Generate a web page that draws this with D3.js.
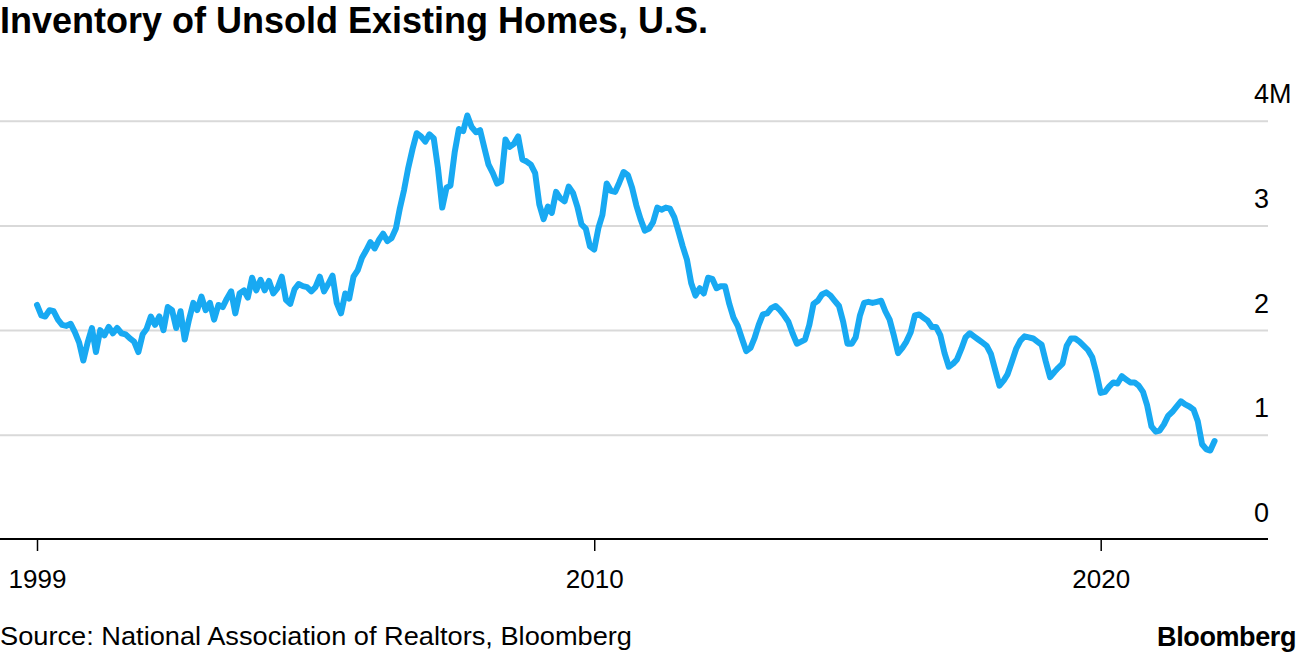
<!DOCTYPE html>
<html>
<head>
<meta charset="utf-8">
<script src="https://cdn.jsdelivr.net/npm/d3@7"></script>
<style>
  html, body { margin: 0; padding: 0; background: #fff; }
  svg { display: block; font-family: "Liberation Sans", Arial, Helvetica, sans-serif; }
</style>
</head>
<body>
<script>
// monthly inventory of unsold existing homes, millions, Jan 1999 onward
const startMonth = new Date(1999, 0, 1);
const inventory = [
  2.24, 2.14, 2.13, 2.19, 2.18, 2.10, 2.05, 2.04, 2.06, 1.98, 1.88, 1.71,
  1.88, 2.02, 1.79, 2.00, 1.95, 2.03, 1.97, 2.02, 1.97, 1.96, 1.92, 1.89,
  1.79, 1.96, 2.01, 2.13, 2.05, 2.13, 2.00, 2.22, 2.19, 2.02, 2.18, 1.91,
  2.10, 2.26, 2.19, 2.32, 2.19, 2.26, 2.10, 2.24, 2.22, 2.30, 2.37, 2.16,
  2.35, 2.38, 2.31, 2.50, 2.38, 2.48, 2.38, 2.47, 2.35, 2.40, 2.51, 2.29,
  2.25, 2.39, 2.44, 2.42, 2.41, 2.37, 2.41, 2.51, 2.37, 2.44, 2.52, 2.26,
  2.16, 2.35, 2.30, 2.51, 2.57, 2.69, 2.76, 2.84, 2.78, 2.86, 2.92, 2.85,
  2.88, 2.97, 3.16, 3.34, 3.55, 3.73, 3.88, 3.85, 3.80, 3.87, 3.83, 3.55,
  3.17, 3.36, 3.38, 3.70, 3.92, 3.90, 4.05, 3.94, 3.89, 3.91, 3.74, 3.58,
  3.50, 3.40, 3.42, 3.82, 3.75, 3.78, 3.85, 3.63, 3.61, 3.58, 3.50, 3.20,
  3.06, 3.18, 3.12, 3.32, 3.26, 3.23, 3.37, 3.31, 3.18, 3.01, 2.97, 2.80,
  2.77, 2.98, 3.10, 3.40, 3.33, 3.32, 3.41, 3.51, 3.48, 3.36, 3.19, 3.06,
  2.95, 2.97, 3.03, 3.17, 3.15, 3.17, 3.16, 3.08, 2.94, 2.80, 2.67, 2.45,
  2.33, 2.40, 2.35, 2.50, 2.49, 2.40, 2.42, 2.42, 2.25, 2.12, 2.04, 1.92,
  1.80, 1.83, 1.92, 2.05, 2.15, 2.16, 2.21, 2.23, 2.19, 2.14, 2.08, 1.97,
  1.87, 1.89, 1.91, 2.05, 2.25, 2.28, 2.34, 2.36, 2.33, 2.28, 2.23, 2.08,
  1.87, 1.87, 1.93, 2.14, 2.26, 2.27, 2.26, 2.27, 2.28, 2.18, 2.10, 1.95,
  1.78, 1.83, 1.89, 1.98, 2.14, 2.15, 2.12, 2.09, 2.03, 2.03, 1.95, 1.78,
  1.65, 1.68, 1.72, 1.82, 1.93, 1.97, 1.94, 1.91, 1.88, 1.85, 1.77, 1.62,
  1.47, 1.52, 1.58, 1.70, 1.82, 1.90, 1.94, 1.93, 1.92, 1.89, 1.86, 1.70,
  1.55, 1.60, 1.64, 1.68, 1.85, 1.92, 1.92, 1.89, 1.85, 1.81, 1.74, 1.59,
  1.40, 1.41, 1.46, 1.50, 1.49, 1.56, 1.53, 1.50, 1.50, 1.47, 1.41, 1.28,
  1.08, 1.03, 1.04, 1.10, 1.18, 1.22, 1.27, 1.32, 1.29, 1.27, 1.24, 1.13,
  0.91, 0.86, 0.85, 0.94
];
const yearTicks = [1999, 2010, 2020];
const valueTicks = [0, 1, 2, 3, 4];
const valueLabels = ["0", "1", "2", "3", "4M"];

const title = "Inventory of Unsold Existing Homes, U.S.";
const source = "Source: National Association of Realtors, Bloomberg";

const width = 1296, height = 652;
const plotRight = 1268;

const data = inventory.map((v, i) => ({ date: d3.timeMonth.offset(startMonth, i), value: v }));

const x = d3.scaleTime()
  .domain([new Date(1999, 0, 1), new Date(2020, 0, 1)])
  .range([37, 1100.7]);

const y = d3.scaleLinear()
  .domain([0, 4])
  .range([539.5, 120.7]);

const svg = d3.select("body").append("svg")
  .attr("width", width)
  .attr("height", height);

// title
svg.append("text")
  .attr("x", 0)
  .attr("y", 33)
  .attr("font-size", 36)
  .attr("font-weight", "bold")
  .attr("textLength", 708)
  .attr("lengthAdjust", "spacingAndGlyphs")
  .attr("fill", "#000")
  .text(title);

// gridlines + value labels
const yAxis = svg.append("g")
  .call(d3.axisRight(y).tickValues(valueTicks).tickSize(plotRight)
    .tickFormat((d, i) => valueLabels[i]));
yAxis.select(".domain").remove();
yAxis.selectAll(".tick line")
  .attr("stroke", "#d9d9d9")
  .attr("stroke-width", 2)
  .filter(d => d === 0).remove();
yAxis.selectAll(".tick text")
  .attr("x", 1254)
  .attr("dy", null)
  .attr("y", -18)
  .attr("text-anchor", "start")
  .attr("font-size", 27)
  .attr("font-family", null)
  .attr("fill", "#000");

// x axis
const xAxis = svg.append("g")
  .attr("transform", `translate(0,${y(0) - 0.5})`)
  .call(d3.axisBottom(x)
    .tickValues(yearTicks.map(yr => new Date(yr, 0, 1)))
    .tickSize(12)
    .tickFormat(d3.timeFormat("%Y")));
xAxis.select(".domain").remove();
xAxis.selectAll(".tick line")
  .attr("stroke", "#000")
  .attr("stroke-width", 1.5);
xAxis.selectAll(".tick text")
  .attr("y", 49)
  .attr("dy", null)
  .attr("font-size", 26)
  .attr("font-family", null)
  .attr("fill", "#000");
xAxis.append("line")
  .attr("x1", 0)
  .attr("x2", plotRight)
  .attr("stroke", "#000")
  .attr("stroke-width", 2);

// series
const line = d3.line()
  .x(d => x(d.date))
  .y(d => y(d.value));

svg.append("path")
  .datum(data)
  .attr("fill", "none")
  .attr("stroke", "#18a9f2")
  .attr("stroke-width", 6)
  .attr("stroke-linejoin", "round")
  .attr("stroke-linecap", "round")
  .attr("d", line);

// footer
svg.append("text")
  .attr("x", 0)
  .attr("y", 645)
  .attr("font-size", 26)
  .attr("textLength", 632)
  .attr("lengthAdjust", "spacingAndGlyphs")
  .attr("fill", "#000")
  .text(source);

svg.append("text")
  .attr("x", 1296)
  .attr("y", 646)
  .attr("text-anchor", "end")
  .attr("font-size", 27)
  .attr("font-weight", "bold")
  .attr("letter-spacing", -0.4)
  .attr("fill", "#000")
  .text("Bloomberg");
</script>
</body>
</html>
